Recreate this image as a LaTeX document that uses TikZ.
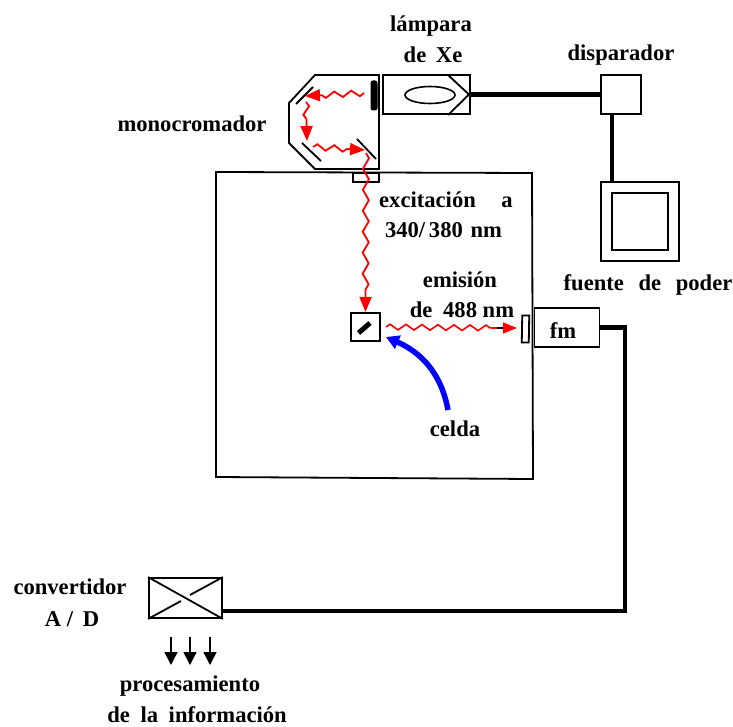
\documentclass[tikz,border=0pt]{standalone}
\usepackage{fontspec}
\setmainfont{Liberation Serif}
\usetikzlibrary{arrows.meta,decorations.pathmorphing,positioning,calc,shapes.geometric}
\tikzset{
  lab/.style={inner sep=0pt,font=\fontsize{22.6}{26}\selectfont\bfseries},
  blackbox/.style={draw,line width=1.8pt,inner sep=0pt,minimum width=#1},
  cable/.style={line width=4.5pt},
  ray/.style={red,line width=1.8pt,decorate,decoration={zigzag,segment length=17,amplitude=3,post=lineto,post length=15pt},-{Triangle[length=15pt,width=12pt]}},
  mirror/.style={line width=1.8pt},
}
\begin{document}
\begin{tikzpicture}[x=1pt,y=-1pt]
  \useasboundingbox (0,0) rectangle (733,727);
  % chamber and monochromator
  \draw[line width=1.8pt] (216,172) -- (532,173) -- (533,479) -- (216,477) -- cycle;
  \draw[line width=1.8pt] (315,75) -- (379,75) -- (379,169) -- (315,169) -- (289,143) -- (289,103) -- cycle;
  \draw[line width=1.4pt] (353,173) rectangle (379,182);
  \draw[mirror] (296,104) -- (313,87);
  \draw[mirror] (302,143) -- (321,161);
  \draw[mirror] (357,139) -- (376,159);
  \draw[line width=1pt,fill=black,rounded corners=2pt] (371,81) rectangle (377,110);
  % boxes
  \node[blackbox=87pt,minimum height=39pt] (lamp) at (426.5,94.5) {};
  \draw[line width=1.6pt] (430,95) ellipse (25 and 8.5);
  \draw[line width=1.8pt] (448,75) -- (469,94.5) -- (448,115);
  \node[blackbox=40pt,minimum height=39pt] (trigger) at (621,94.5) {};
  \node[blackbox=78pt,minimum height=79pt,line width=1.4pt] (psu) at (640,221.5) {};
  \node[blackbox=56pt,minimum height=57pt,line width=2pt] (psuin) at (640,221.5) {};
  \node[blackbox=29pt,minimum height=28pt,line width=2.2pt] (cell) at (365.5,327) {};
  \draw[line width=5pt] (358.5,333) -- (370,323);
  \node[blackbox=65pt,minimum height=39pt,line width=1.5pt,anchor=west] (pmt) at (533.5,327.5) {};
  \node[draw,line width=1.8pt,minimum width=7pt,minimum height=27pt,inner sep=0pt,rotate=-1] (slit) at (525.5,329) {};
  \node[blackbox=73pt,minimum height=40pt] (adc) at (185.5,598) {};
  \draw[line width=1.8pt] (adc.north west) -- (adc.south east);
  \draw[line width=1.8pt] (adc.south west) -- (181,601);
  \draw[line width=1.8pt] (190,595) -- (adc.north east);
  % cables
  \coordinate (trigout) at (612,114);
  \coordinate (psuinp) at (612,182);
  \coordinate (corner1) at (625,327.5);
  \coordinate (corner2) at (625,611);
  \coordinate (adcin) at (222,611);
  \draw[cable] (lamp.east) -- (trigger.west);
  \draw[cable] (trigout) -- (psuinp);
  \draw[cable] (pmt.east) -- (corner1) -- (corner2) -- (adcin);
  % light path
  \coordinate (a1) at (364,93);   \coordinate (a2) at (305,96);
  \coordinate (b1) at (306,102);  \coordinate (b2) at (307,141);
  \coordinate (c1) at (313,147);  \coordinate (c2) at (365,150);
  \coordinate (d1) at (366,153);
  \coordinate (e1) at (386,327);  \coordinate (e2) at (497,328);
  \coordinate (e3) at (517,328);
  \draw[ray] (a1) -- (a2);
  \draw[ray] (b1) -- (b2);
  \draw[ray] (c1) -- (c2);
  \draw[ray,decoration={segment length=21}] (d1) -- (cell.north);
  \draw[red,line width=1.6pt,decorate,decoration={zigzag,segment length=16,amplitude=2.8}] (e1) -- (e2);
  \draw[line width=1.2pt] (e2) -- (506,328);
  \draw[red,line width=1.6pt,-{Triangle[length=14pt,width=11pt]}] (503,328) -- (e3);
  % cell pointer
  \coordinate (b0) at (448,410);
  \coordinate (b3) at (386,337);
  \draw[blue,line width=5.5pt,-{Triangle[length=13pt,width=14pt]}] (b0) .. controls (441,372) and (420,352) .. (b3);
  % output arrows
  \foreach \k/\xa in {1/171,2/190,3/210} {
    \coordinate (o\k) at (\xa,637);
    \coordinate (p\k) at (\xa,665);
    \draw[line width=1.5pt,-{Triangle[length=13pt,width=13pt]}] (o\k) -- (p\k);
  }
  % labels
  \foreach \n/\xa/\ya/\txt in {
    t1/431/26/{lámpara},t2/433/55/{de\hspace{4pt} Xe},t3/621/55/{disparador},
    t4/192/124/{monocromador},t6/443.5/230/{340/\,380\hspace{2pt} nm},
    t7/460/280/{emisión},t8/462/310/{de\hspace{5pt} 488 nm},t9/563/331/{fm},
    t10/648/285/{fuente\hspace{9pt} de\hspace{9pt} poder},t11/455/429/{celda},
    t12/70/587/{convertidor},t13/72/619/{A /\hspace{4pt} D},
    t14/190/686/{procesamiento},t15/197/715/{de\hspace{5pt} la\hspace{5pt} información}} {
    \node[lab] (\n) at (\xa,\ya) {\txt};
  }
  \node[lab] (t5) at (446,200) {excitación\hspace{20pt} a};
\end{tikzpicture}
\end{document}
